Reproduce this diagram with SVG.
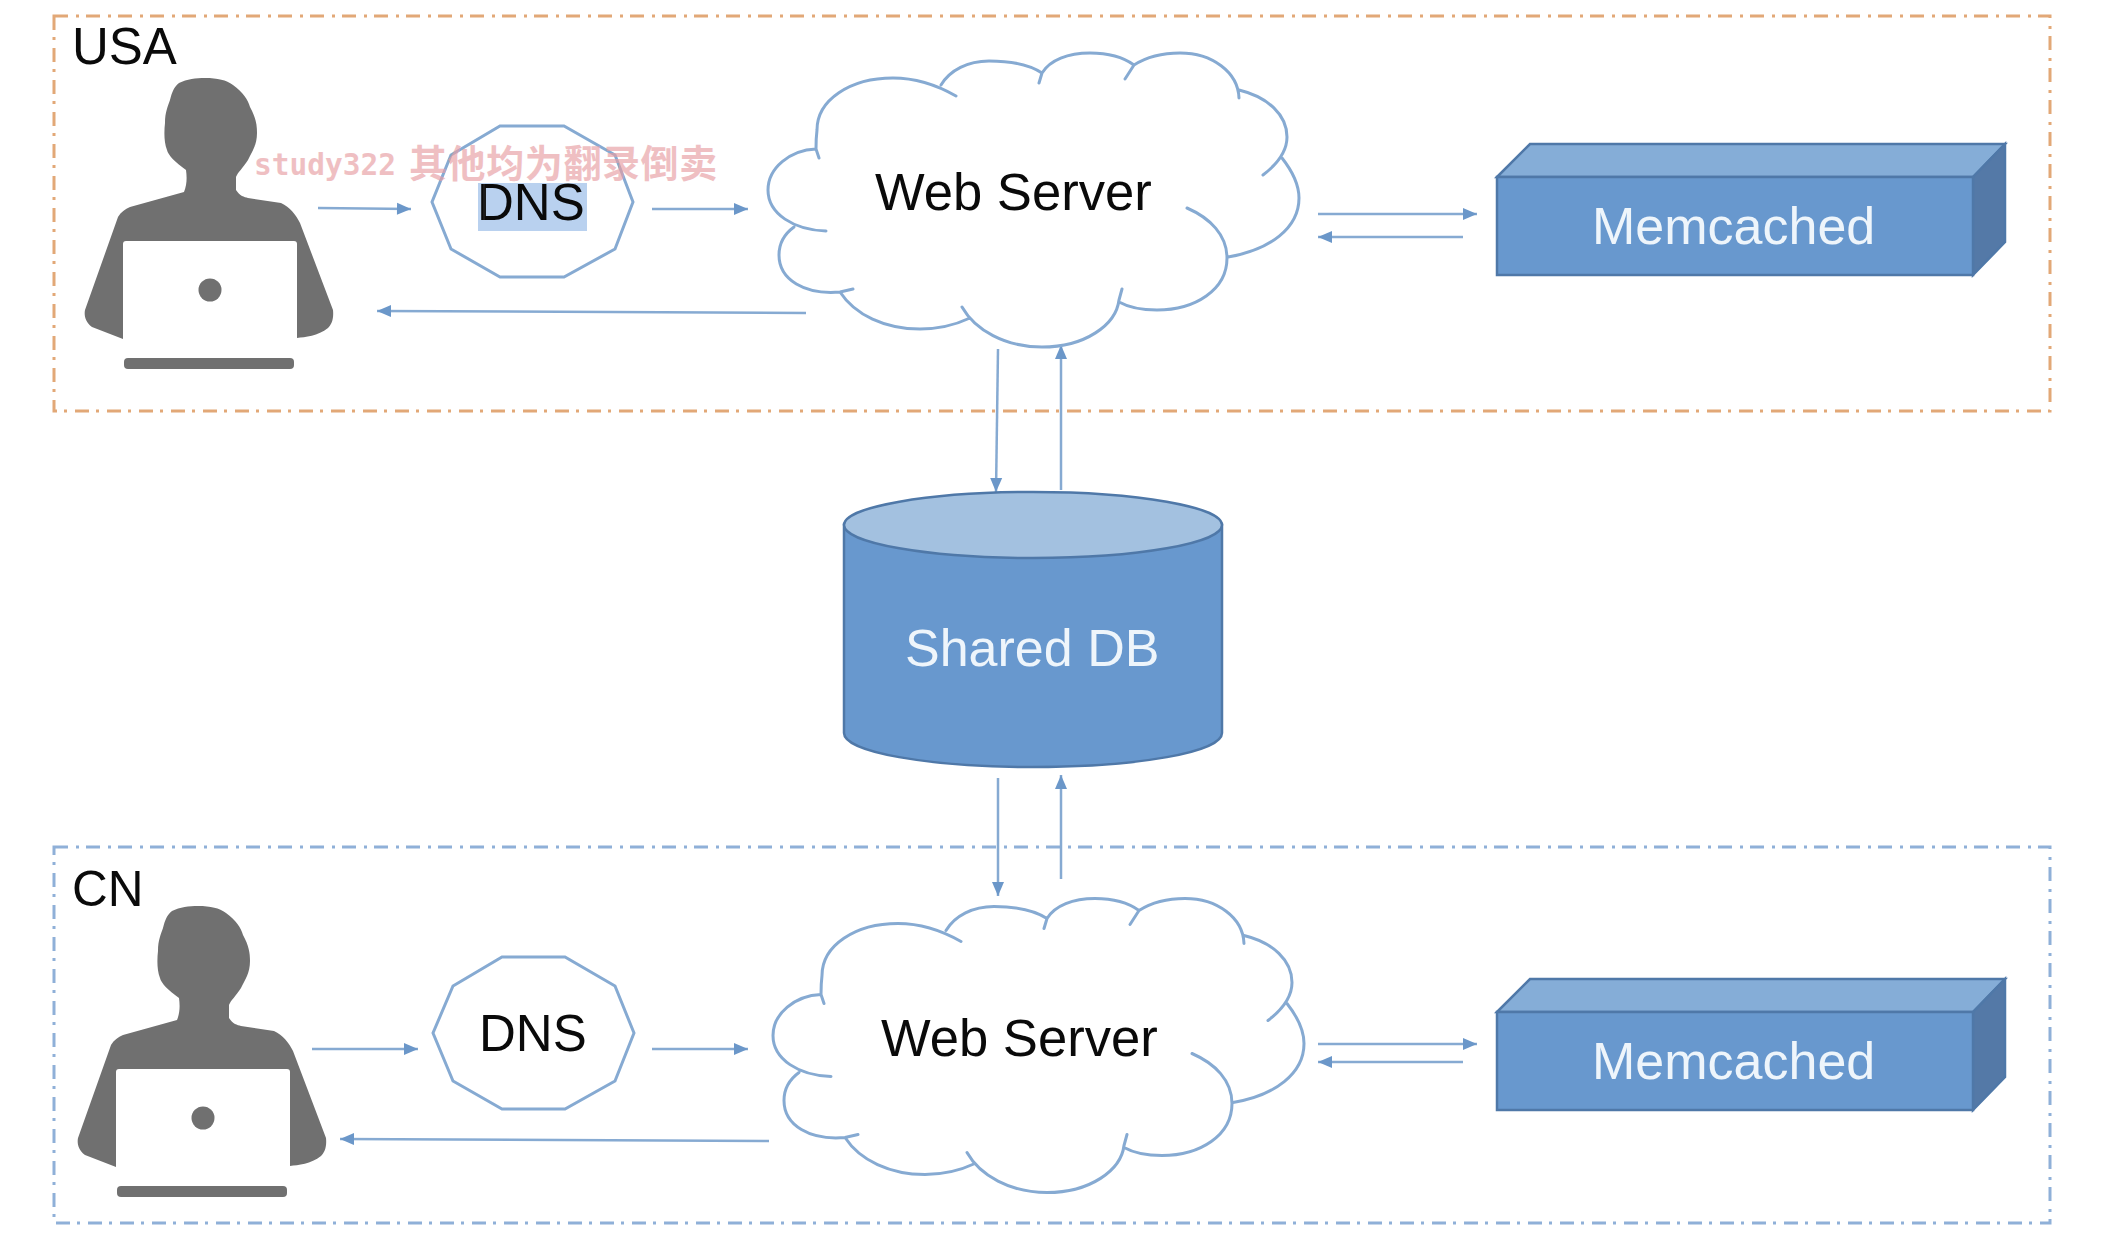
<svg xmlns="http://www.w3.org/2000/svg" xmlns:xlink="http://www.w3.org/1999/xlink" width="2112" height="1250" viewBox="0 0 2112 1250">
<style>
text{font-family:"Liberation Sans",Arial,sans-serif}
.frame{fill:none;stroke-width:3;stroke-dasharray:14 8 3 7}
.label{font-size:51px;fill:#0a0a0a}
.node-text{font-size:52.6px;fill:#0a0a0a}
.light{font-size:52px;fill:#eef5fb}
.cloud-fill{fill:#fff;stroke:none}
.cloud-line{fill:none;stroke:#86aad2;stroke-width:3;stroke-linecap:round;stroke-linejoin:round}
.dns{fill:#fff;stroke:#86aad2;stroke-width:3}
.arrow{fill:none;stroke:#86aad2;stroke-width:2.5;marker-end:url(#head)}
.front{fill:#6898ce;stroke:#4f78a8;stroke-width:2.5}
.top{fill:#85add7;stroke:#4f78a8;stroke-width:2.5}
.side{fill:#5479a7;stroke:#4f78a8;stroke-width:2.5}
.gray{fill:#707070}
</style>
<defs>
<marker id="head" markerUnits="userSpaceOnUse" markerWidth="16" markerHeight="14" refX="15" refY="7" orient="auto">
<path d="M1,1 L15,7 L1,13 Z" fill="#6b97c9"/>
</marker>
<g id="person">
<path class="gray" d="M205,78 C218,78 226,80 233,85 C243,92 248,100 250,107 C256,118 257,125 257,133 C257,145 252,152 248,160 C243,168 238,172 236,177 L236,190 C240,196 244,197 248,198 L281,203 C290,207 296,215 300,223 L333,310 C334,320 331,325 328,328 C318,336 305,337 297,338 L123,339 L92,327 C85,322 84,315 85,310 L118,217 C121,212 125,209 130,207 L184,192 C187,185 187,177 186,170 C175,162 168,155 167,150 C164,142 164,132 165,123 C165,112 168,106 170,100 C172,92 174,87 179,83 C187,79 196,78 205,78 Z"/>
<rect x="123" y="241" width="174" height="105" rx="3" fill="#fff"/>
<ellipse class="gray" cx="210" cy="290" rx="11.5" ry="11.5"/>
<rect class="gray" x="124" y="358" width="170" height="11" rx="4"/>
</g>
<g id="cloud">
<path class="cloud-fill" d="M768,190 C768,168 790,150 816,149 C816,100 850,78 893,78 C915,78 930,80 941,85 C950,70 968,61 989,61 C1010,61 1030,65 1042,73 C1050,60 1068,53 1090,53 C1108,53 1123,57 1134,65 C1145,58 1160,53 1180,53 C1212,53 1238,72 1239,90 C1268,97 1287,115 1287,137 C1287,145 1285,152 1282,158 C1293,172 1299,185 1299,198 C1299,228 1270,250 1228,257 C1227,290 1195,310 1157,310 C1140,310 1128,307 1119,302 C1110,328 1085,347 1042,347 C1005,347 980,335 970,318 C955,325 940,329 920,329 C885,329 855,315 840,292 C805,295 779,280 779,255 C779,245 783,235 794,227 C780,220 768,205 768,190 Z"/>
<path class="cloud-line" d="M826,231 C794,230 768,214 768,190 C768,168 790,150 816,149 L819,158 M794,227 C783,235 779,245 779,255 C779,280 805,295 840,292 L853,289 M840,292 C855,315 885,329 920,329 C940,329 955,325 970,318 M962,307 C975,330 1005,347 1042,347 C1085,347 1116,325 1119,300 L1122,289 M1187,208 C1210,218 1227,235 1227,258 C1227,290 1195,310 1157,310 C1140,310 1128,307 1119,302 M1228,257 C1270,250 1299,228 1299,198 C1299,185 1293,172 1282,158 M1263,175 C1280,162 1287,150 1287,137 C1287,115 1268,97 1239,90 M1239,98 C1238,72 1212,53 1180,53 C1160,53 1145,58 1134,65 L1125,79 M1134,65 C1123,57 1108,53 1090,53 C1068,53 1050,60 1042,73 L1039,83 M1042,73 C1030,65 1010,61 989,61 C968,61 950,70 941,85 M956,96 C935,84 915,78 893,78 C850,78 817,100 817,130 C816,138 816,145 816,149"/>
</g>
<g id="mem">
<polygon class="top" points="1497,177 1530,144 2005,144 1973,177"/>
<polygon class="side" points="1973,177 2005,144 2005,242 1973,275"/>
<rect class="front" x="1497" y="177" width="476" height="98"/>
</g>
</defs>
<rect width="2112" height="1250" fill="#fff"/>
<g id="region-usa">
<rect class="frame" x="54" y="16" width="1996" height="395" stroke="#e2a877"/>
<text class="label" x="72" y="64">USA</text>
</g>
<g id="region-cn">
<rect class="frame" x="54" y="847" width="1996" height="376" stroke="#8fb0d8"/>
<text class="label" x="72" y="906" style="font-size:49.5px">CN</text>
</g>
<g id="connectors">
<path class="arrow" d="M318,208 L411,209"/>
<path class="arrow" d="M652,209 L748,209"/>
<path class="arrow" d="M806,313 L377,311"/>
<path class="arrow" d="M1318,214 L1477,214"/>
<path class="arrow" d="M1463,237 L1318,237"/>
<path class="arrow" d="M998,349 L996,492"/>
<path class="arrow" d="M1061,490 L1061,345"/>
<path class="arrow" d="M998,778 L998,896"/>
<path class="arrow" d="M1061,879 L1061,775"/>
<path class="arrow" d="M312,1049 L418,1049"/>
<path class="arrow" d="M652,1049 L748,1049"/>
<path class="arrow" d="M769,1141 L340,1139"/>
<path class="arrow" d="M1318,1044 L1477,1044"/>
<path class="arrow" d="M1463,1062 L1318,1062"/>
</g>
<g id="user-usa"><use href="#person"/></g>
<g id="dns-usa">
<polygon class="dns" points="500,126 564,126 615,155 633,202 615,249 564,277 500,277 451,249 432,202 451,155"/>
<rect x="478" y="183" width="109" height="48" fill="#b9d1ef"/>
<text class="label" x="477" y="220">DNS</text>
<path d="M484,184 L484,220" stroke="#222" stroke-width="1.5"/>
</g>
<g id="web-usa">
<use href="#cloud"/>
<text class="node-text" x="875" y="210">Web Server</text>
</g>
<g id="memcached-usa">
<use href="#mem"/>
<text class="light" x="1592" y="244">Memcached</text>
</g>
<g id="shared-db">
<path class="front" d="M844,525 L844,733 C844,752 928,767 1033,767 C1138,767 1222,752 1222,733 L1222,525 Z"/>
<ellipse cx="1033" cy="525" rx="189" ry="33" fill="#a3c1e0" stroke="#4f78a8" stroke-width="2.5"/>
<text class="light" x="905" y="666">Shared DB</text>
</g>
<g id="user-cn"><use href="#person" x="-7" y="828"/></g>
<g id="dns-cn">
<polygon class="dns" points="502,957 565,957 615,986 634,1033 615,1081 565,1109 502,1109 453,1081 433,1033 453,986"/>
<text class="label" x="479" y="1051">DNS</text>
</g>
<g id="web-cn">
<use href="#cloud" x="5" y="845.5"/>
<text class="node-text" x="881" y="1056">Web Server</text>
</g>
<g id="memcached-cn">
<use href="#mem" y="835"/>
<text class="light" x="1592" y="1079">Memcached</text>
</g>
<g id="watermark" fill="#e89ea3" opacity="0.65" font-weight="700">
<text x="254" y="175" style="font-family:'DejaVu Sans Mono',monospace;font-size:29.5px">study322</text>
<text x="409" y="177" style="font-family:'Noto Sans CJK SC',sans-serif;font-size:38px;letter-spacing:.6px">其他均为翻录倒卖</text>
</g>
</svg>
